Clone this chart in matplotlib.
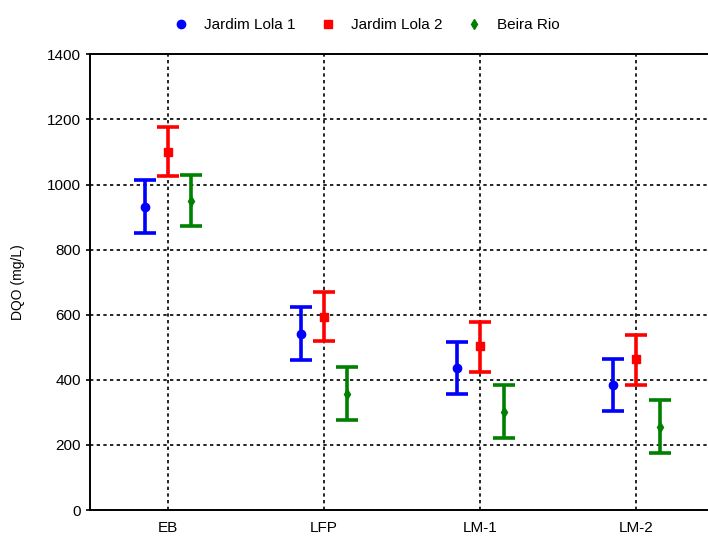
import numpy as np
import matplotlib.pyplot as plt

plt.rcParams['font.family'] = ['Liberation Sans', 'DejaVu Sans']

# pontos de amostragem e DQO média com limites do intervalo (mg/L)
pontos = ['EB', 'LFP', 'LM-1', 'LM-2']
series = ['Jardim Lola 1', 'Jardim Lola 2', 'Beira Rio']

media_jl1 = [932, 542, 436, 385]
sup_jl1 = [1014, 624, 516, 464]
inf_jl1 = [851, 462, 356, 305]

media_jl2 = [1100, 594, 503, 464]
sup_jl2 = [1178, 671, 579, 539]
inf_jl2 = [1025, 519, 425, 384]

media_br = [948, 356, 300, 255]
sup_br = [1029, 438, 384, 339]
inf_br = [872, 277, 220, 175]

medias = [media_jl1, media_jl2, media_br]
sups = [sup_jl1, sup_jl2, sup_br]
infs = [inf_jl1, inf_jl2, inf_br]
cores = ['#0000ff', '#ff0000', '#008000']
marcadores = ['o', 's', 'd']
desloc = [-0.15, 0.0, 0.15]

fig = plt.figure(figsize=(7.08, 5.38), dpi=100)
ax = fig.add_axes([0.127, 0.052, 0.873, 0.847])

x = np.arange(len(pontos))
handles = []
for m, s, i, c, mk, d, nome in zip(medias, sups, infs, cores, marcadores, desloc, series):
    m = np.array(m)
    err = [m - np.array(i), np.array(s) - m]
    ax.errorbar(x + d, m, yerr=err, fmt='none', ecolor=c, elinewidth=2.6,
                capsize=8, capthick=2.6, zorder=3)
    h, = ax.plot(x + d, m, linestyle='none', marker=mk, color=c,
                 markersize=6 if mk != 'd' else 5, zorder=4, label=nome)
    handles.append(h)

ax.set_xlim(-0.5, 3.46)
ax.set_ylim(0, 1400)
ax.set_yticks(np.arange(0, 1401, 200))
ax.set_xticks(x)
ax.set_xticklabels(pontos)
ax.tick_params(axis='x', length=0, pad=8, labelsize=11)
ax.tick_params(axis='y', length=3, width=1.2, direction='out', labelsize=11)
ax.set_ylabel('DQO (mg/L)', fontsize=10, labelpad=16)

ax.grid(True, color='black', linestyle=(0, (2, 2)), linewidth=1.2, zorder=1)
ax.set_axisbelow(True)
ax.spines['right'].set_visible(False)
for lado in ['left', 'bottom', 'top']:
    ax.spines[lado].set_linewidth(1.4)

fig.legend(handles=handles, loc='center', bbox_to_anchor=(0.517, 0.953),
           ncol=3, frameon=False, fontsize=11, handlelength=1.2,
           handletextpad=0.9, columnspacing=1.5)

fig.savefig('out.png', dpi=100)
